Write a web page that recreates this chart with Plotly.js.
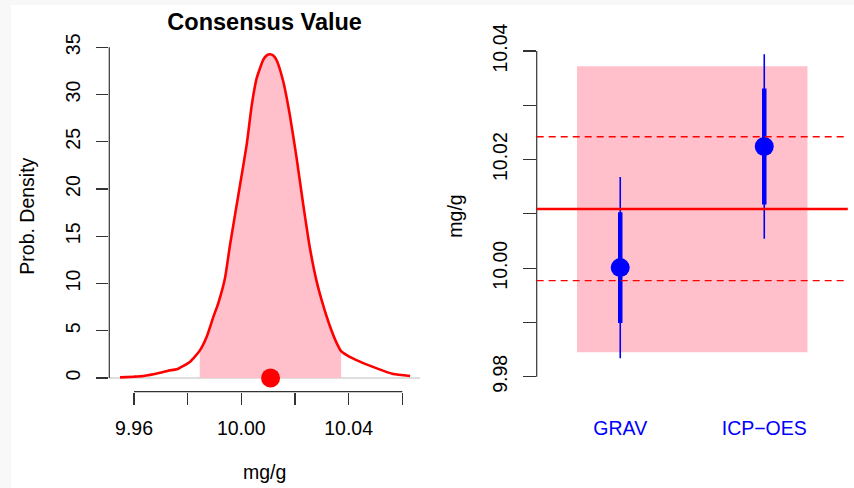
<!DOCTYPE html>
<html>
<head>
<meta charset="utf-8">
<script src="https://cdn.plot.ly/plotly-3.0.1.min.js"></script>
<style>html,body{margin:0;padding:0;background:#fff;}#chart{width:854px;height:488px;}</style>
</head>
<body>
<div id="chart"></div>
<script>
// ---- data ----
const densX = [9.9548, 9.9600, 9.9635, 9.9697, 9.9730, 9.9759, 9.9809, 9.9845, 9.9871, 9.9896, 9.9914, 9.9939, 9.9958, 9.9995, 10.0020, 10.0039, 10.0057, 10.0082, 10.0095, 10.0107, 10.0120, 10.0132, 10.0156, 10.0181, 10.0206, 10.0231, 10.0256, 10.0281, 10.0303, 10.0331, 10.0356, 10.0372, 10.0393, 10.0442, 10.0505, 10.0566, 10.0629];
const densY = [0.07, 0.14, 0.21, 0.56, 0.80, 0.92, 1.73, 2.90, 4.37, 6.49, 7.90, 10.55, 14.1, 20.4, 24.7, 28.9, 31.7, 33.7, 34.15, 34.26, 34.1, 33.6, 31.4, 27.8, 23.3, 18.3, 13.7, 10.2, 7.90, 5.43, 3.67, 2.85, 2.43, 1.73, 1.02, 0.42, 0.21];
const consVal = 10.0109;
const consLo = 9.9845;
const consHi = 10.0372;
const dashLevels = [9.9977, 10.0242];

const labs = ["GRAV", "ICP\u2212OES"];
const labVals = [10.0001, 10.0224];
const uStd = [0.0102, 0.0107];
const uExp = [0.0167, 0.0170];

const leftXTicks = [9.96, 9.98, 10.00, 10.02, 10.04, 10.06];
const leftXText = ["9.96", "", "10.00", "", "10.04", ""];
const leftYTicks = [0, 5, 10, 15, 20, 25, 30, 35];
const leftYText = ["0", "5", "10", "15", "20", "25", "30", "35"];
const rightYTicks = [9.98, 9.99, 10.00, 10.01, 10.02, 10.03, 10.04];
const rightYText = ["9.98", "", "10.00", "", "10.02", "", "10.04"];

// ---- build ----
const W = 854, H = 488;
const FONT = "Liberation Sans, Arial, Helvetica, sans-serif";
const FS = 19.5;
const axCol = "#333333";
const red = "#ff0000", pink = "#ffc0cb", blue = "#0000ff";

const shadeX = [], shadeY = [];
densX.forEach((x, i) => { if (x >= consLo && x <= consHi) { shadeX.push(x); shadeY.push(densY[i]); } });
const idx = labs.map((_, i) => i + 1);

const traces = [
  {x: shadeX, y: shadeY, type: "scatter", mode: "none", fill: "tozeroy", fillcolor: pink,
   line: {shape: "spline", smoothing: 0.5}, xaxis: "x", yaxis: "y", hoverinfo: "skip"},
  {x: densX, y: densY, type: "scatter", mode: "lines", line: {color: red, width: 2.6, shape: "spline", smoothing: 0.5},
   xaxis: "x", yaxis: "y"},
  {x: [consVal], y: [0], type: "scatter", mode: "markers", marker: {color: red, size: 19},
   cliponaxis: false, xaxis: "x", yaxis: "y"},
  {x: idx, y: labVals, type: "scatter", mode: "markers", marker: {color: blue, size: 1, opacity: 0},
   error_y: {type: "data", array: uExp, visible: true, thickness: 1.6, width: 0, color: blue},
   xaxis: "x2", yaxis: "y2"},
  {x: idx, y: labVals, type: "scatter", mode: "markers", marker: {color: blue, size: 19},
   error_y: {type: "data", array: uStd, visible: true, thickness: 4.5, width: 0, color: blue},
   xaxis: "x2", yaxis: "y2"}
];

const lxDom = [109.3 / W, 420 / W];
const yDom = [1 - 391.7 / H, 1 - 41.7 / H];
const rxDom = [536.7 / W, 847.8 / W];

const shapes = [
  {type: "rect", xref: "paper", yref: "paper", x0: 0, x1: 11 / W, y0: 0, y1: 1, fillcolor: "#f8f8f8", line: {width: 0}, layer: "below"},
  {type: "rect", xref: "paper", yref: "paper", x0: 0, x1: 1, y0: 1 - 5 / H, y1: 1, fillcolor: "#f8f8f8", line: {width: 0}, layer: "below"},
  // left baseline at 0
  {type: "line", xref: "x domain", yref: "y", x0: 0, x1: 1, y0: 0, y1: 0, line: {color: "#bebebe", width: 1.2}, layer: "below"},
  // left axis lines
  {type: "line", xref: "x", yref: "y domain", x0: leftXTicks[0], x1: leftXTicks[leftXTicks.length - 1], y0: 0, y1: 0, line: {color: axCol, width: 1.2}},
  {type: "line", xref: "x domain", yref: "y", x0: 0, x1: 0, y0: leftYTicks[0], y1: leftYTicks[leftYTicks.length - 1], line: {color: axCol, width: 1.2}},
  // right axis line
  {type: "line", xref: "x2 domain", yref: "y2", x0: 0, x1: 0, y0: rightYTicks[0], y1: rightYTicks[rightYTicks.length - 1], line: {color: axCol, width: 1.2}},
  // right pink interval
  {type: "rect", xref: "x2", yref: "y2", x0: idx[0] - 0.3, x1: idx[idx.length - 1] + 0.3, y0: consLo, y1: consHi, fillcolor: pink, line: {width: 0}, layer: "below"},
  // consensus line
  {type: "line", xref: "x2 domain", yref: "y2", x0: 0, x1: 1, y0: consVal, y1: consVal, line: {color: red, width: 2.6}, layer: "above"}
];
dashLevels.forEach(v => shapes.push({type: "line", xref: "x2 domain", yref: "y2", x0: 0, x1: 1, y0: v, y1: v,
  line: {color: red, width: 1.3, dash: "7px,5px"}, layer: "above"}));

const annotations = [
  {text: "Prob. Density", xref: "paper", yref: "paper", x: 27 / W, y: (yDom[0] + yDom[1]) / 2, textangle: -90,
   showarrow: false, xanchor: "center", yanchor: "middle", font: {family: FONT, size: FS, color: "#000"}},
  {text: "mg/g", xref: "paper", yref: "paper", x: (lxDom[0] + lxDom[1]) / 2, y: 1 - 472 / H,
   showarrow: false, xanchor: "center", yanchor: "middle", font: {family: FONT, size: FS, color: "#000"}},
  {text: "mg/g", xref: "paper", yref: "paper", x: 455 / W, y: (yDom[0] + yDom[1]) / 2, textangle: -90,
   showarrow: false, xanchor: "center", yanchor: "middle", font: {family: FONT, size: FS, color: "#000"}}
];

const tickCommon = {ticks: "outside", ticklen: 12.5, tickwidth: 1.2, tickcolor: axCol, showline: false, showgrid: false,
  zeroline: false, tickfont: {family: FONT, size: FS, color: "#000"}};

const layout = {
  width: W, height: H, margin: {l: 0, r: 0, t: 0, b: 0}, showlegend: false,
  paper_bgcolor: "#ffffff", plot_bgcolor: "rgba(0,0,0,0)",
  title: {text: "<b>Consensus Value</b>", xref: "paper", yref: "paper", x: (lxDom[0] + lxDom[1]) / 2, xanchor: "center",
    y: 1 - 22 / H, yanchor: "middle", font: {family: FONT, size: 23.5, color: "#000"}},
  xaxis: Object.assign({}, tickCommon, {domain: lxDom, range: [9.95079, 10.0666], tickmode: "array", tickvals: leftXTicks, ticktext: leftXText, anchor: "y", ticklabelstandoff: 6}),
  yaxis: Object.assign({}, tickCommon, {domain: yDom, range: [-1.45, 35.59], tickmode: "array", tickvals: leftYTicks, ticktext: leftYText, tickangle: -90, anchor: "x", ticklabelstandoff: 8}),
  xaxis2: Object.assign({}, tickCommon, {domain: rxDom, range: [0.42, 2.58], tickmode: "array", tickvals: idx, ticktext: labs,
    tickcolor: "rgba(0,0,0,0)", tickfont: {family: FONT, size: FS, color: blue}, anchor: "y2", ticklabelstandoff: 6}),
  yaxis2: Object.assign({}, tickCommon, {domain: yDom, range: [9.97724, 10.04171], tickmode: "array", tickvals: rightYTicks, ticktext: rightYText, tickangle: -90, anchor: "x2", ticklabelstandoff: 8}),
  shapes: shapes,
  annotations: annotations
};

Plotly.newPlot("chart", traces, layout, {staticPlot: true, displayModeBar: false});
</script>
</body>
</html>
